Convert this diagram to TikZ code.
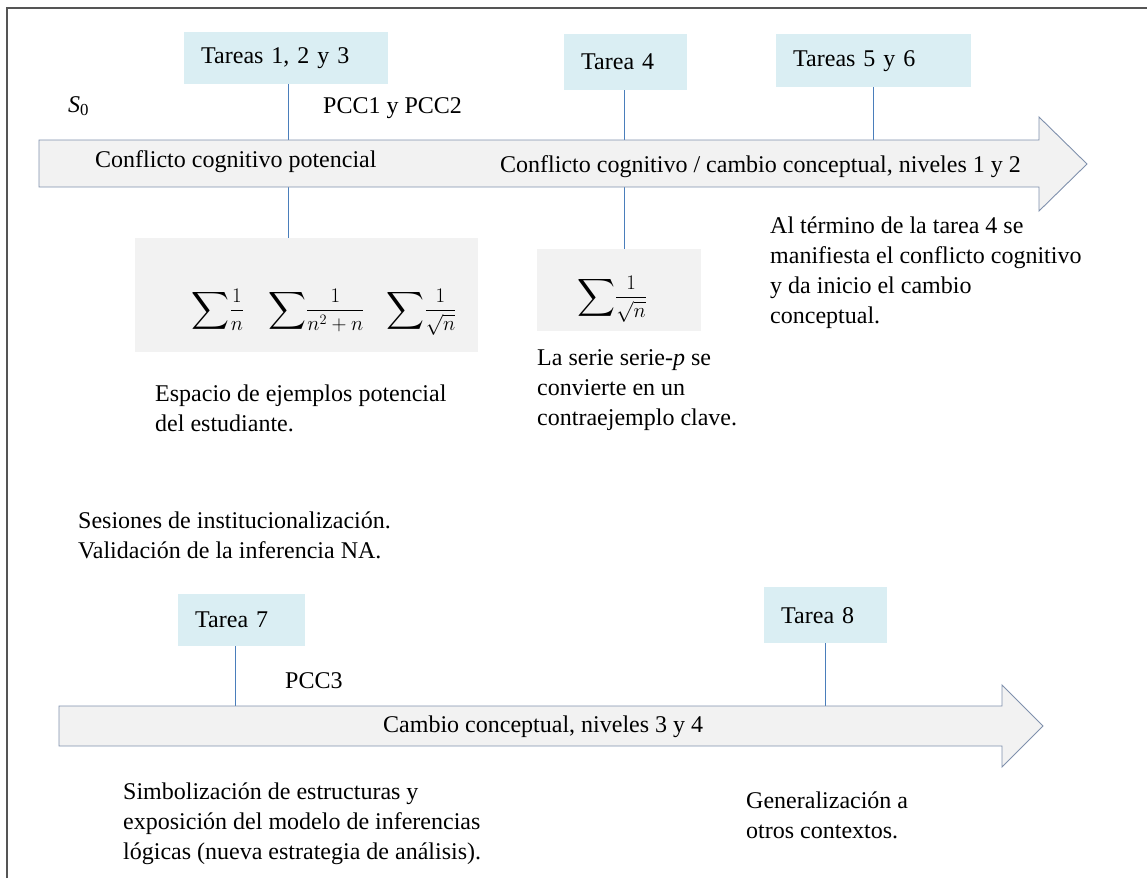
\documentclass[tikz,border=0pt]{standalone}
\usepackage{amsmath}
\usepackage{graphicx}
\usepackage{fontspec}
\setmainfont{Liberation Serif}
\definecolor{taskblue}{HTML}{DAEEF3}
\definecolor{panelgray}{HTML}{F2F2F2}
\definecolor{linkblue}{HTML}{4A7EBB}
\definecolor{arrowedge}{HTML}{7F90AC}
\definecolor{framegray}{HTML}{555555}
% a large summation sign centred on the math axis, followed by a fraction
\newcommand{\bigsumfrac}[2]{$\vcenter{\hbox{\scalebox{1.27}{$\displaystyle\sum$}}}\dfrac{#1}{#2}$}
\tikzset{
  every node/.style={font=\fontsize{24}{30}\selectfont, inner sep=0pt},
  taskbox/.style={fill=taskblue, anchor=north west, inner xsep=17pt, align=left},
  panel/.style={fill=panelgray, anchor=north west},
  mathrow/.style={font=\fontsize{21}{24}\selectfont},
  note/.style={anchor=base west, align=left},
  conn/.style={draw=linkblue, line width=1.3pt},
  timeline/.style={fill=panelgray, draw=arrowedge, line width=0.9pt, line join=miter},
}
\begin{document}
\begin{tikzpicture}[x=1pt, y=-1pt]
\useasboundingbox (0,0) rectangle (1147,878);
% page frame
\draw[framegray, line width=1.6pt] (7,878) -- (7,8) -- (1147,8);

% task boxes
\node[taskbox, minimum height=52pt, text width=170pt] (t123) at (184,32) {Tareas 1, 2 y 3};
\node[taskbox, minimum height=56pt, text width=89pt] (t4) at (564,34) {Tarea 4};
\node[taskbox, minimum height=53pt, text width=161pt] (t56) at (776,34) {Tareas 5 y 6};
\node[taskbox, minimum height=52pt, text width=93pt] (t7) at (178,594) {Tarea 7};
\node[taskbox, minimum height=56pt, text width=89pt] (t8) at (764,587) {Tarea 8};

% example panels
\node[panel, minimum width=343pt, minimum height=114pt] (ex1) at (135,238) {};
\node[mathrow] (sums1) at (324,312) {\bigsumfrac{1}{n}\hspace{24pt}\bigsumfrac{1}{n^2+n}\hspace{22pt}\bigsumfrac{1}{\sqrt{n}}};
\node[panel, minimum width=164pt, minimum height=82pt] (ex2) at (537,249) {};
\node[mathrow] (sums2) at (612,299) {\bigsumfrac{1}{\sqrt{n}}};

% attachment rows on the timelines
\coordinate (a1top) at (0,140);
\coordinate (a2top) at (0,706);

% connectors (behind the timelines)
\draw[conn] ([xshift=2pt]t123.south) -- ([xshift=2pt]t123.south |- ex1.north);
\draw[conn] ([xshift=-1pt]t4.south) -- ([xshift=-1pt]t4.south |- ex2.north);
\draw[conn] (t56.south) -- (t56.south |- a1top);
\draw[conn] ([xshift=-6.5pt]t7.south) -- ([xshift=-6.5pt]t7.south |- a2top);
\draw[conn] (t8.south) -- (t8.south |- a2top);

% timelines
\draw[timeline] (39,140) -- (1039,140) -- (1039,117) -- (1087,164) -- (1039,211) -- (1039,187) -- (39,187) -- cycle;
\draw[timeline] (59,706) -- (1002,706) -- (1002,685) -- (1043,726) -- (1002,767) -- (1002,746) -- (59,746) -- cycle;

% labels around the first timeline (multi-line notes sit on their last baseline)
\node[note] (s0) at (68,112) {\textit{S}\textsubscript{0}};
\node[note] (pcc12) at (323,113) {PCC1 y PCC2};
\node[note] (ccp) at (95,167) {Conflicto cognitivo potencial};
\node[note] (cc12) at (500,172) {Conflicto cognitivo / cambio conceptual, niveles 1 y 2};
\node[note] (n1) at (155,431) {Espacio de ejemplos potencial\\del estudiante.};
\node[note] (n2) at (537,425) {La serie serie-\textit{p} se\\convierte en un\\contraejemplo clave.};
\node[note] (n3) at (770,323) {Al término de la tarea 4 se\\manifiesta el conflicto cognitivo\\y da inicio el cambio\\conceptual.};

% institutionalisation note
\node[note] (ses) at (78,558) {Sesiones de institucionalización.\\Validación de la inferencia NA.};

% labels around the second timeline
\node[note] (pcc3) at (285,688) {PCC3};
\node[note] (cc34) at (383,732) {Cambio conceptual, niveles 3 y 4};
\node[note] (n4) at (123,859) {Simbolización de estructuras y\\exposición del modelo de inferencias\\lógicas (nueva estrategia de análisis).};
\node[note] (n5) at (746,838) {Generalización a\\otros contextos.};
\end{tikzpicture}
\end{document}
